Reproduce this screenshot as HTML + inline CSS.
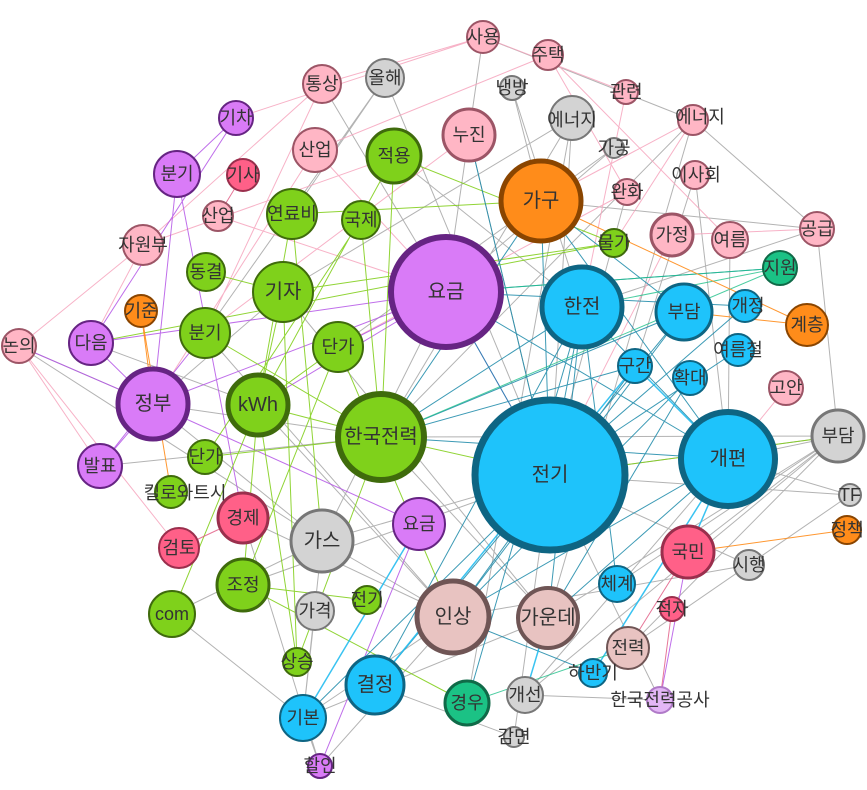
<!DOCTYPE html>
<html><head><meta charset="utf-8"><style>
html,body{margin:0;padding:0;background:#fff;}
svg{display:block;}
text{font-family:"Liberation Sans","Noto Sans CJK KR",sans-serif;fill:#333;text-anchor:middle;dominant-baseline:central;font-size:18px;}
</style></head><body>
<svg width="867" height="790" viewBox="0 0 867 790" xmlns="http://www.w3.org/2000/svg">
<g fill="none" stroke-width="1">
<path stroke="#999" opacity="0.75" d="M550 475L838 436M550 475L850 495M728 459L838 436M728 459L850 495M322 541L550 475M322 541L453 617M303 718L453 617M320 766L303 718M320 766L453 617M514 737L550 475M525 695L728 459M572 118L550 475M385 78L550 475M483 37L446 292M483 37L693 120M817 229L838 436M817 229L693 120M660 700L550 475M153 404L381 437M283 292L153 404M19 346L153 404M243 518L320 766M172 614L303 718M548 618L838 436M749 565L550 475M315 611L303 718M394 156L582 307M322 84L446 292M469 135L550 475M695 175L728 459M730 240L728 459M525 695L660 700M572 118L381 437M512 88L541 201M817 229L541 201M838 436L688 552M385 78L292 214M243 518L453 617M303 718L548 618M19 346L322 541M572 118L283 292M693 120L548 618M614 148L446 292M153 404L322 541M258 405L453 617M381 437L548 618M446 292L322 541M283 292L548 618M205 333L453 617M385 78L205 333M512 88L582 307M572 118L467 703M627 192L550 475M817 229L582 307M838 436L617 584M850 495L628 648M525 695L838 436M514 737L375 685M303 718L322 541M172 614L322 541M100 466L381 437M91 343L258 405M614 148L338 347M693 120L381 437M695 175L635 366M749 565L453 617M628 648L838 436M243 585L550 475M381 437L838 436"/>
<path stroke="#f6a5bd" opacity="0.85" d="M483 37L322 84M483 37L236 118M548 55L315 150M19 346L143 245M19 346L100 466M19 346L179 548M143 245L322 84M143 245L394 156M218 216L446 292M315 150L153 404M322 84L205 333M693 120L541 201M626 92L582 307M672 235L550 475M817 229L672 235M483 37L626 92M548 55L627 192M143 245L91 343M469 135L205 333M315 150L446 292M627 192L338 347M693 120L614 243M548 55L730 240M786 388L728 459"/>
<path stroke="#b455e6" opacity="0.85" d="M236 118L177 174M236 118L91 343M177 174L153 404M91 343L153 404M19 346L153 404M153 404L446 292M153 404L419 524M100 466L153 404M258 405L446 292M446 292L338 347M100 466L205 333M177 174L243 518M660 700L688 552M320 766L419 524M446 292L550 475M91 343L446 292"/>
<path stroke="#7ccc12" opacity="0.85" d="M292 214L258 405M283 292L258 405M338 347L258 405M361 220L381 437M394 156L258 405M205 333L381 437M206 272L283 292M258 405L381 437M258 405L243 585M243 585L367 600M297 662L258 405M381 437L550 475M172 614L258 405M292 214L541 201M394 156L614 243M381 437L297 662M205 457L381 437M614 243L91 343M338 347L243 585M467 703L243 585M283 292L297 662M292 214L322 541M361 220L205 457M394 156L381 437M338 347L453 617M283 292L614 243M550 475L838 436"/>
<path stroke="#1a88a8" opacity="0.85" d="M446 292L550 475M582 307L550 475M582 307L381 437M582 307L728 459M684 312L550 475M635 366L453 617M728 459L453 617M446 292L728 459M550 475L375 685M550 475L303 718M728 459L381 437M780 268L446 292M745 306L550 475M617 584L582 307M469 135L550 475M541 201L381 437M690 378L548 618M467 703L582 307M541 201L550 475M684 312L381 437M453 617L593 673M548 618L582 307M541 201L728 459M684 312L453 617M738 350L550 475M690 378L453 617M635 366L381 437M582 307L375 685M728 459L548 618M745 306L446 292M541 201L684 312"/>
<path stroke="#25bdf0" opacity="0.9" stroke-width="1.5" d="M375 685L635 366M303 718L419 524M593 673L728 459M688 552L728 459M548 618L525 695M635 366L728 459"/>
<path stroke="#1fc08a" opacity="0.8" d="M467 703L628 648M381 437L780 268M582 307L780 268M446 292L780 268"/>
<path stroke="#ff8c1a" opacity="0.9" d="M541 201L807 325M141 311L153 404M688 552L847 530M171 492L141 311M684 312L807 325"/>
<path stroke="#e05580" opacity="0.8" d="M688 552L628 648M243 175L218 216M179 548L243 518M672 609L660 700"/>
</g>
<g stroke-width="2">
<g fill="#ffb6c5" stroke="#9c5566">
<circle cx="483" cy="37" r="16"/><circle cx="548" cy="55" r="15"/><circle cx="322" cy="84" r="19"/>
<circle cx="626" cy="92" r="12"/><circle cx="693" cy="120" r="15"/><circle cx="469" cy="135" r="26" stroke-width="3"/>
<circle cx="315" cy="150" r="22"/><circle cx="695" cy="175" r="14"/><circle cx="627" cy="192" r="13"/>
<circle cx="817" cy="229" r="17"/><circle cx="730" cy="240" r="18"/><circle cx="672" cy="235" r="21" stroke-width="3"/>
<circle cx="218" cy="216" r="15"/><circle cx="143" cy="245" r="20"/><circle cx="19" cy="346" r="17"/>
<circle cx="786" cy="388" r="17"/>
</g>
<g fill="#d3d3d3" stroke="#777">
<circle cx="385" cy="78" r="19"/><circle cx="512" cy="88" r="12"/><circle cx="572" cy="118" r="22"/>
<circle cx="614" cy="148" r="10"/><circle cx="838" cy="436" r="26" stroke-width="3"/><circle cx="850" cy="495" r="11"/>
<circle cx="322" cy="541" r="31" stroke-width="3"/><circle cx="749" cy="565" r="15"/><circle cx="315" cy="611" r="19"/>
<circle cx="525" cy="695" r="18"/><circle cx="514" cy="737" r="10"/>
</g>
<g fill="#d97bf7" stroke="#662483">
<circle cx="236" cy="118" r="17"/><circle cx="177" cy="174" r="23"/><circle cx="446" cy="292" r="55" stroke-width="6"/>
<circle cx="91" cy="343" r="22"/><circle cx="153" cy="404" r="35" stroke-width="5"/><circle cx="100" cy="466" r="22"/>
<circle cx="419" cy="524" r="26"/><circle cx="320" cy="766" r="12"/>
</g>
<circle cx="660" cy="700" r="13" fill="#e3b6f5" stroke="#b07ac8"/>
<g fill="#7fd11b" stroke="#3f6b0c">
<circle cx="394" cy="156" r="27" stroke-width="3"/><circle cx="614" cy="243" r="14"/><circle cx="292" cy="214" r="25"/>
<circle cx="361" cy="220" r="19"/><circle cx="206" cy="272" r="19"/><circle cx="283" cy="292" r="30"/>
<circle cx="205" cy="333" r="25"/><circle cx="338" cy="347" r="25"/><circle cx="258" cy="405" r="30" stroke-width="5"/>
<circle cx="381" cy="437" r="43" stroke-width="6"/><circle cx="205" cy="457" r="17"/><circle cx="171" cy="492" r="16"/>
<circle cx="243" cy="585" r="26" stroke-width="3"/><circle cx="172" cy="614" r="23"/><circle cx="367" cy="600" r="14"/>
<circle cx="297" cy="662" r="14"/>
</g>
<g fill="#1ec3fb" stroke="#0e6583">
<circle cx="582" cy="307" r="40" stroke-width="5"/><circle cx="684" cy="312" r="28" stroke-width="3"/><circle cx="745" cy="306" r="16"/>
<circle cx="635" cy="366" r="17"/><circle cx="738" cy="350" r="16"/><circle cx="690" cy="378" r="17"/>
<circle cx="550" cy="475" r="75" stroke-width="7"/><circle cx="728" cy="459" r="47" stroke-width="6"/>
<circle cx="617" cy="584" r="18"/><circle cx="593" cy="673" r="14"/><circle cx="375" cy="685" r="29" stroke-width="3"/>
<circle cx="303" cy="718" r="23"/>
</g>
<g fill="#ff8c1a" stroke="#8a4500">
<circle cx="541" cy="201" r="40" stroke-width="5"/><circle cx="807" cy="325" r="21"/><circle cx="141" cy="311" r="16"/>
<circle cx="847" cy="530" r="14"/>
</g>
<g fill="#ff6088" stroke="#9a2f4d">
<circle cx="243" cy="175" r="16"/><circle cx="243" cy="518" r="25" stroke-width="3"/><circle cx="688" cy="552" r="26" stroke-width="3"/>
<circle cx="179" cy="548" r="20"/><circle cx="672" cy="609" r="12"/>
</g>
<g fill="#1bc285" stroke="#106a48">
<circle cx="780" cy="268" r="17"/><circle cx="467" cy="703" r="22" stroke-width="3"/>
</g>
<g fill="#e8c3c1" stroke="#6f5555">
<circle cx="453" cy="617" r="36" stroke-width="5"/><circle cx="548" cy="618" r="30" stroke-width="4"/><circle cx="628" cy="648" r="21"/>
</g>
</g>
<g>
<text x="483" y="37">사용</text><text x="548" y="55">주택</text><text x="322" y="84">통상</text><text x="385" y="78">올해</text>
<text x="512" y="88">냉방</text><text x="626" y="92">관련</text><text x="572" y="120">에너지</text><text x="700" y="117">에너지</text>
<text x="469" y="135">누진</text><text x="394" y="156">적용</text><text x="315" y="150">산업</text><text x="236" y="118">기차</text>
<text x="177" y="174">분기</text><text x="243" y="175">기사</text><text x="614" y="148">가공</text><text x="696" y="175">이사회</text>
<text x="627" y="192">완화</text><text x="817" y="229">공급</text><text x="730" y="240">여름</text><text x="672" y="235">가정</text>
<text x="541" y="201" style="font-size:20px">가구</text>
<text x="614" y="243">물가</text><text x="780" y="268">지원</text><text x="292" y="214">연료비</text><text x="361" y="220">국제</text>
<text x="218" y="216">산업</text><text x="143" y="245">자원부</text><text x="206" y="272">동결</text><text x="283" y="292" style="font-size:20px">기자</text>
<text x="446" y="292" style="font-size:20px">요금</text><text x="582" y="307" style="font-size:20px">한전</text><text x="684" y="312">부담</text>
<text x="748" y="306">개정</text><text x="807" y="325">계층</text><text x="141" y="311">기준</text><text x="19" y="346">논의</text>
<text x="91" y="343">다음</text><text x="205" y="333">분기</text><text x="338" y="347">단가</text><text x="635" y="366">구간</text>
<text x="738" y="350">여름철</text><text x="690" y="378">확대</text><text x="786" y="388">고안</text><text x="153" y="404" style="font-size:20px">정부</text>
<text x="258" y="405" style="font-size:20px">kWh</text><text x="381" y="437" style="font-size:20px">한국전력</text><text x="550" y="475" style="font-size:20px">전기</text>
<text x="728" y="459" style="font-size:20px">개편</text><text x="838" y="436">부담</text><text x="850" y="495">TF</text><text x="847" y="530">정책</text>
<text x="205" y="457">단가</text><text x="100" y="466">발표</text><text x="185" y="493">킬로와트시</text><text x="243" y="518">경제</text>
<text x="419" y="524">요금</text><text x="322" y="541" style="font-size:20px">가스</text><text x="688" y="552">국민</text><text x="749" y="565">시행</text>
<text x="179" y="548">검토</text><text x="243" y="585">조정</text><text x="172" y="614">com</text><text x="617" y="584">체계</text>
<text x="453" y="617" style="font-size:20px">인상</text><text x="548" y="618" style="font-size:20px">가운데</text><text x="315" y="611">가격</text>
<text x="367" y="600">전기</text><text x="672" y="609">적자</text><text x="628" y="648">전력</text><text x="297" y="662">상승</text>
<text x="375" y="685" style="font-size:20px">결정</text><text x="593" y="673">하반기</text><text x="660" y="700">한국전력공사</text><text x="525" y="695">개선</text>
<text x="467" y="703">경우</text><text x="303" y="718">기본</text><text x="514" y="737">감면</text><text x="320" y="766">할인</text>
</g>
</svg>
</body></html>
